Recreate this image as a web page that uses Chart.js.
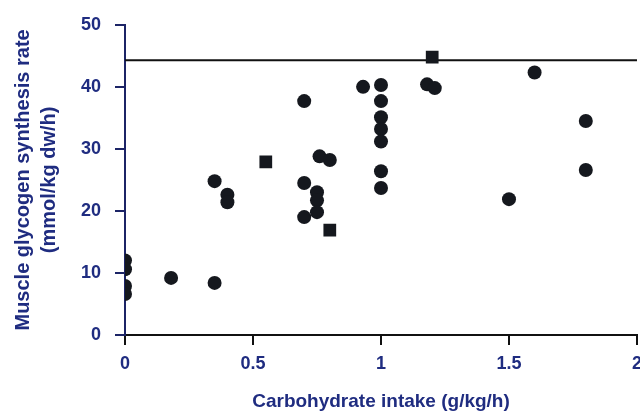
<!DOCTYPE html>
<html>
<head>
<meta charset="utf-8">
<script src="https://cdn.jsdelivr.net/npm/chart.js@4/dist/chart.umd.min.js"></script>
<style>
  html, body { margin: 0; padding: 0; background: #fff; overflow: hidden; }
  /* a little wider than the window so the last x label runs off the edge */
  #wrap { width: 650px; height: 413px; }
</style>
</head>
<body>
<div id="wrap"><canvas id="glycogenChart"></canvas></div>
<script>
// glycogen synthesis vs carbohydrate intake, one point per study group
const carbIntake = [0, 0, 0, 0, 0.18, 0.35, 0.35, 0.4, 0.4, 0.55,
  0.7, 0.76, 0.8, 0.7, 0.75, 0.75, 0.75, 0.7, 0.8, 0.93,
  1, 1, 1, 1, 1, 1, 1, 1.2, 1.18, 1.21, 1.5, 1.6, 1.8, 1.8];
const synthesisRate = [12, 10.6, 7.9, 6.6, 9.2, 8.4, 24.8, 22.6, 21.4, 27.9,
  37.7, 28.8, 28.2, 24.5, 23, 21.7, 19.8, 19, 16.9, 40,
  40.3, 37.7, 35.1, 33.2, 31.2, 26.4, 23.7, 44.8, 40.4, 39.8, 21.9, 42.3, 34.5, 26.6];
const plateauRate = 44.3;
const xTickValues = [0, 0.5, 1, 1.5, 2];
const yTickValues = [0, 10, 20, 30, 40, 50];

const squareMarks = [9, 18, 27];
const NAVY = "#1f2c80";
const INK = "#15181e";

const points = carbIntake.map((x, i) => ({ x, y: synthesisRate[i] }));

new Chart(document.getElementById("glycogenChart"), {
  type: "scatter",
  data: {
    datasets: [
      {
        label: "Plateau",
        type: "line",
        data: [{ x: 0, y: plateauRate }, { x: 2, y: plateauRate }],
        borderColor: "#111",
        borderWidth: 2,
        pointRadius: 0,
        order: 1
      },
      {
        label: "Studies",
        data: points,
        backgroundColor: INK,
        borderColor: INK,
        borderWidth: 0,
        pointStyle: c => squareMarks.includes(c.dataIndex) ? "rect" : "circle",
        pointRadius: c => squareMarks.includes(c.dataIndex) ? 9 : 7,
        order: 0
      }
    ]
  },
  options: {
    responsive: true,
    maintainAspectRatio: false,
    animation: false,
    layout: { padding: { top: 19, right: 0, left: 0, bottom: 0 } },
    plugins: { legend: { display: false }, tooltip: { enabled: false } },
    scales: {
      x: {
        type: "linear",
        min: 0,
        max: 2,
        afterBuildTicks: s => { s.ticks = xTickValues.map(v => ({ value: v })); },
        afterFit: s => { s.height = 78; },
        ticks: {
          color: NAVY,
          font: { family: "Liberation Sans", size: 18, weight: "bold" },
          padding: 8,
          maxRotation: 0,
          callback: v => String(v)
        },
        grid: { drawOnChartArea: false, drawTicks: true, tickLength: 10, color: "#111", lineWidth: 2 },
        border: { color: "#111", width: 2 },
        title: {
          display: true,
          text: "Carbohydrate intake (g/kg/h)",
          color: NAVY,
          font: { family: "Liberation Sans", size: 19, weight: "bold" },
          padding: { top: 4, bottom: 0 }
        }
      },
      y: {
        min: 0,
        max: 50,
        afterBuildTicks: s => { s.ticks = yTickValues.map(v => ({ value: v })); },
        afterFit: s => { s.width = 125; },
        ticks: {
          color: NAVY,
          font: { family: "Liberation Sans", size: 18, weight: "bold" },
          padding: 14
        },
        grid: { drawOnChartArea: false, drawTicks: true, tickLength: 10, color: "#1c2466", lineWidth: 2 },
        border: { color: "#1c2466", width: 2 },
        title: {
          display: true,
          text: ["Muscle glycogen synthesis rate", "(mmol/kg dw/h)"],
          color: NAVY,
          font: { family: "Liberation Sans", size: 20, weight: "bold", lineHeight: 1.3 },
          padding: { top: 10, bottom: 0 }
        }
      }
    }
  }
});
</script>
</body>
</html>
